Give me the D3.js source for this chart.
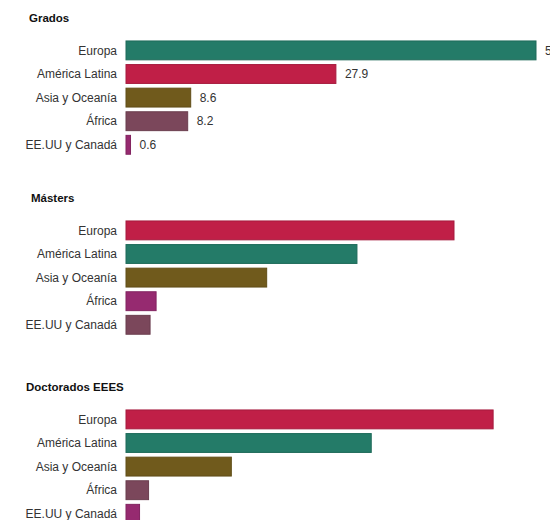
<!DOCTYPE html>
<html>
<head>
<meta charset="utf-8">
<script src="https://cdn.jsdelivr.net/npm/d3@7"></script>
<style>
  body { margin: 0; background: #fff; }
  svg { display: block; font-family: "Liberation Sans", Arial, sans-serif; }
</style>
</head>
<body>
<div id="chart-container"></div>
<script>
// categories and values (percent)
const regions = ["Europa", "América Latina", "Asia y Oceanía", "África", "EE.UU y Canadá"];
const panel_titles = ["Grados", "Másters", "Doctorados EEES"];
const grados = [54.5, 27.9, 8.6, 8.2, 0.6];
const masters = [43.6, 30.7, 18.7, 4.0, 3.2];
const doctorados = [48.8, 32.6, 14.0, 3.0, 1.8];
const show_values = [true, false, false];

const teal = "#247b68", crimson = "#c01f47", olive = "#705a1c", mauve = "#7b475b", magenta = "#962a70";
const grados_colors = [teal, crimson, olive, mauve, magenta];
const masters_colors = [crimson, teal, olive, magenta, mauve];
const doctorados_colors = [crimson, teal, olive, mauve, magenta];

const panels = [
  { title: panel_titles[0], values: grados, colors: grados_colors, labels: show_values[0] },
  { title: panel_titles[1], values: masters, colors: masters_colors, labels: show_values[1] },
  { title: panel_titles[2], values: doctorados, colors: doctorados_colors, labels: show_values[2] },
];

const width = 550, height = 520;
const panel_top = [0, 180, 369];
const title_x = [29, 31, 26];

const svg = d3.select("#chart-container")
  .append("svg")
  .attr("width", width)
  .attr("height", height);

const xScale = d3.scaleLinear()
  .domain([0, d3.max([grados, masters, doctorados].flat())])
  .range([126, 536]);

const yScale = d3.scaleBand()
  .domain(regions)
  .range([38.6, 156.6])
  .paddingInner(0.2)
  .paddingOuter(0.1);

panels.forEach((p, pi) => {
  const g = svg.append("g").attr("transform", `translate(0,${panel_top[pi]})`);

  g.append("text")
    .attr("x", title_x[pi])
    .attr("y", 22)
    .attr("fill", "#111")
    .style("font-size", "11.5px")
    .style("font-weight", "bold")
    .text(p.title);

  const rows = regions.map((r, i) => ({ region: r, value: p.values[i], color: p.colors[i] }));

  g.selectAll(".cat-label")
    .data(rows)
    .enter()
    .append("text")
    .attr("class", "cat-label")
    .attr("x", 117)
    .attr("y", (d) => yScale(d.region) + yScale.bandwidth() / 2)
    .attr("dy", "0.35em")
    .attr("text-anchor", "end")
    .attr("fill", "#333")
    .style("font-size", "12px")
    .text((d) => d.region);

  g.selectAll(".bar")
    .data(rows)
    .enter()
    .append("rect")
    .attr("class", "bar")
    .attr("x", xScale(0))
    .attr("y", (d) => yScale(d.region))
    .attr("width", (d) => xScale(d.value) - xScale(0))
    .attr("height", yScale.bandwidth())
    .attr("fill", (d) => d.color)
    .attr("stroke", (d) => d3.color(d.color).darker(0.4))
    .attr("stroke-width", 1);

  if (p.labels) {
    g.selectAll(".val-label")
      .data(rows)
      .enter()
      .append("text")
      .attr("class", "val-label")
      .attr("x", (d) => xScale(d.value) + 9)
      .attr("y", (d) => yScale(d.region) + yScale.bandwidth() / 2)
      .attr("dy", "0.35em")
      .attr("fill", "#333")
      .style("font-size", "12px")
      .text((d) => d3.format(".1f")(d.value));
  }
});
</script>
</body>
</html>
